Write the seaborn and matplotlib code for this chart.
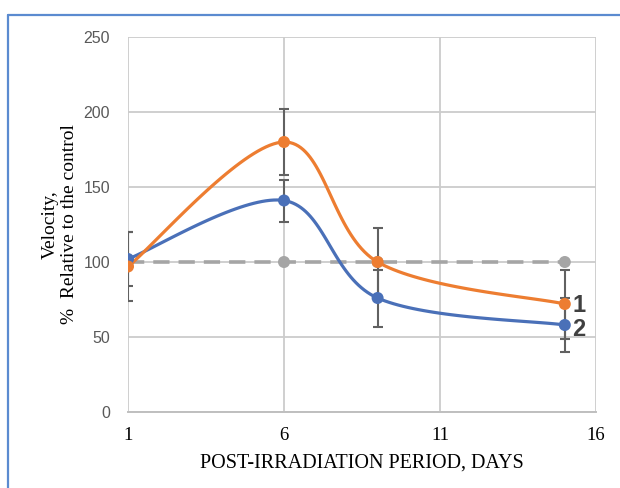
import numpy as np
import pandas as pd
import matplotlib
matplotlib.use("Agg")
import matplotlib.pyplot as plt
import seaborn as sns
from matplotlib.lines import Line2D

days = [1, 6, 9, 15]
series1 = [97, 180, 100, 72]
series1_err = [23, 22, 23, 23]
series2 = [102, 141, 76, 58]
series2_err = [18, 14, 19, 18]
control = [100, 100, 100, 100]
series_labels = ["1", "2"]
x_ticks = [1, 6, 11, 16]
y_ticks = [0, 50, 100, 150, 200, 250]

sns.set_theme(style="white")

fig = plt.figure(figsize=(6.2, 4.88), dpi=100)
ax = fig.add_axes([128 / 620, 1 - 412 / 488, (596 - 128) / 620, (412 - 37) / 488])

# scale factors for smoothing in screen-like space
sx = (596 - 128) / 15.0
sy = (412 - 37) / 250.0


def smooth(xs, ys, n=40):
    px = np.array(xs, float) * sx
    py = np.array(ys, float) * sy
    P = np.column_stack([px, py])
    P = np.vstack([P[0], P, P[-1]])
    out = []
    for i in range(1, len(P) - 2):
        p0, p1, p2, p3 = P[i - 1], P[i], P[i + 1], P[i + 2]
        c1 = p1 + (p2 - p0) / 6.0
        c2 = p2 - (p3 - p1) / 6.0
        t = np.linspace(0, 1, n)[:, None]
        b = ((1 - t) ** 3) * p1 + 3 * ((1 - t) ** 2) * t * c1 + 3 * (1 - t) * t ** 2 * c2 + t ** 3 * p2
        out.append(b if i == 1 else b[1:])
    B = np.vstack(out)
    return B[:, 0] / sx, B[:, 1] / sy


orange = "#ED7D31"
blue = "#4A70B8"
gray = "#A5A5A5"
errc = "#616161"

# grid
for xv in x_ticks:
    ax.axvline(xv, color="#CCCCCC", lw=1.3, zorder=0)
for yv in y_ticks:
    ax.axhline(yv, color="#CCCCCC", lw=1.3, zorder=0)

# error bars
ax.errorbar(days, series1, yerr=series1_err, fmt="none", ecolor=errc, elinewidth=1.5, capsize=3.5, capthick=1.5, zorder=2)
ax.errorbar(days, series2, yerr=series2_err, fmt="none", ecolor=errc, elinewidth=1.5, capsize=3.5, capthick=1.5, zorder=2)

# control dashed line
dfc = pd.DataFrame({"x": days, "y": control})
sns.lineplot(data=dfc, x="x", y="y", ax=ax, color=gray, lw=2.6, zorder=3, sort=False)
ax.lines[-1].set_dashes([4.5, 2.5])
sns.scatterplot(data=dfc, x="x", y="y", ax=ax, color=gray, s=75, edgecolor="none", zorder=4)

for ys, col in [(series2, blue), (series1, orange)]:
    xs_s, ys_s = smooth(days, ys)
    dfl = pd.DataFrame({"x": xs_s, "y": ys_s})
    sns.lineplot(data=dfl, x="x", y="y", ax=ax, color=col, lw=2.3, zorder=5, sort=False)
    dfp = pd.DataFrame({"x": days, "y": ys})
    sns.scatterplot(data=dfp, x="x", y="y", ax=ax, color=col, s=75, edgecolor="none", zorder=6)

ax.text(15.25, 71, series_labels[0], fontsize=17, fontweight="bold", color="#404040",
        va="center", ha="left", family="Liberation Sans", zorder=7)
ax.text(15.25, 55, series_labels[1], fontsize=17, fontweight="bold", color="#404040",
        va="center", ha="left", family="Liberation Sans", zorder=7)

ax.set_xlim(1, 16)
ax.set_ylim(0, 250)
ax.set_xticks(x_ticks)
ax.set_yticks(y_ticks)
ax.set_xticklabels([str(v) for v in x_ticks], family="Liberation Serif", fontsize=13.5, color="black")
ax.set_yticklabels([str(v) for v in y_ticks], family="Liberation Sans", fontsize=11.5, color="#595959")
ax.tick_params(axis="both", length=0)
ax.tick_params(axis="x", pad=11)
ax.tick_params(axis="y", pad=13)

for side in ["top", "right", "left"]:
    ax.spines[side].set_visible(False)
ax.spines["bottom"].set_color("#BFBFBF")
ax.spines["bottom"].set_linewidth(1.4)

ax.set_xlabel("POST-IRRADIATION PERIOD, DAYS", family="Liberation Serif", fontsize=14.5, color="black", labelpad=7)
ax.set_ylabel("Velocity,\n%  Relative to the control", family="Liberation Serif", fontsize=14, color="black",
              labelpad=4, linespacing=1.15)
ax.set_facecolor("white")

# outer frame
fc = "#5B8BD0"
fig.add_artist(Line2D([8 / 620, 1.0], [1 - 15 / 488, 1 - 15 / 488], color=fc, lw=1.6, transform=fig.transFigure))
fig.add_artist(Line2D([8 / 620, 8 / 620], [0, 1 - 15 / 488], color=fc, lw=1.6, transform=fig.transFigure))

fig.savefig("out.png", dpi=100)
